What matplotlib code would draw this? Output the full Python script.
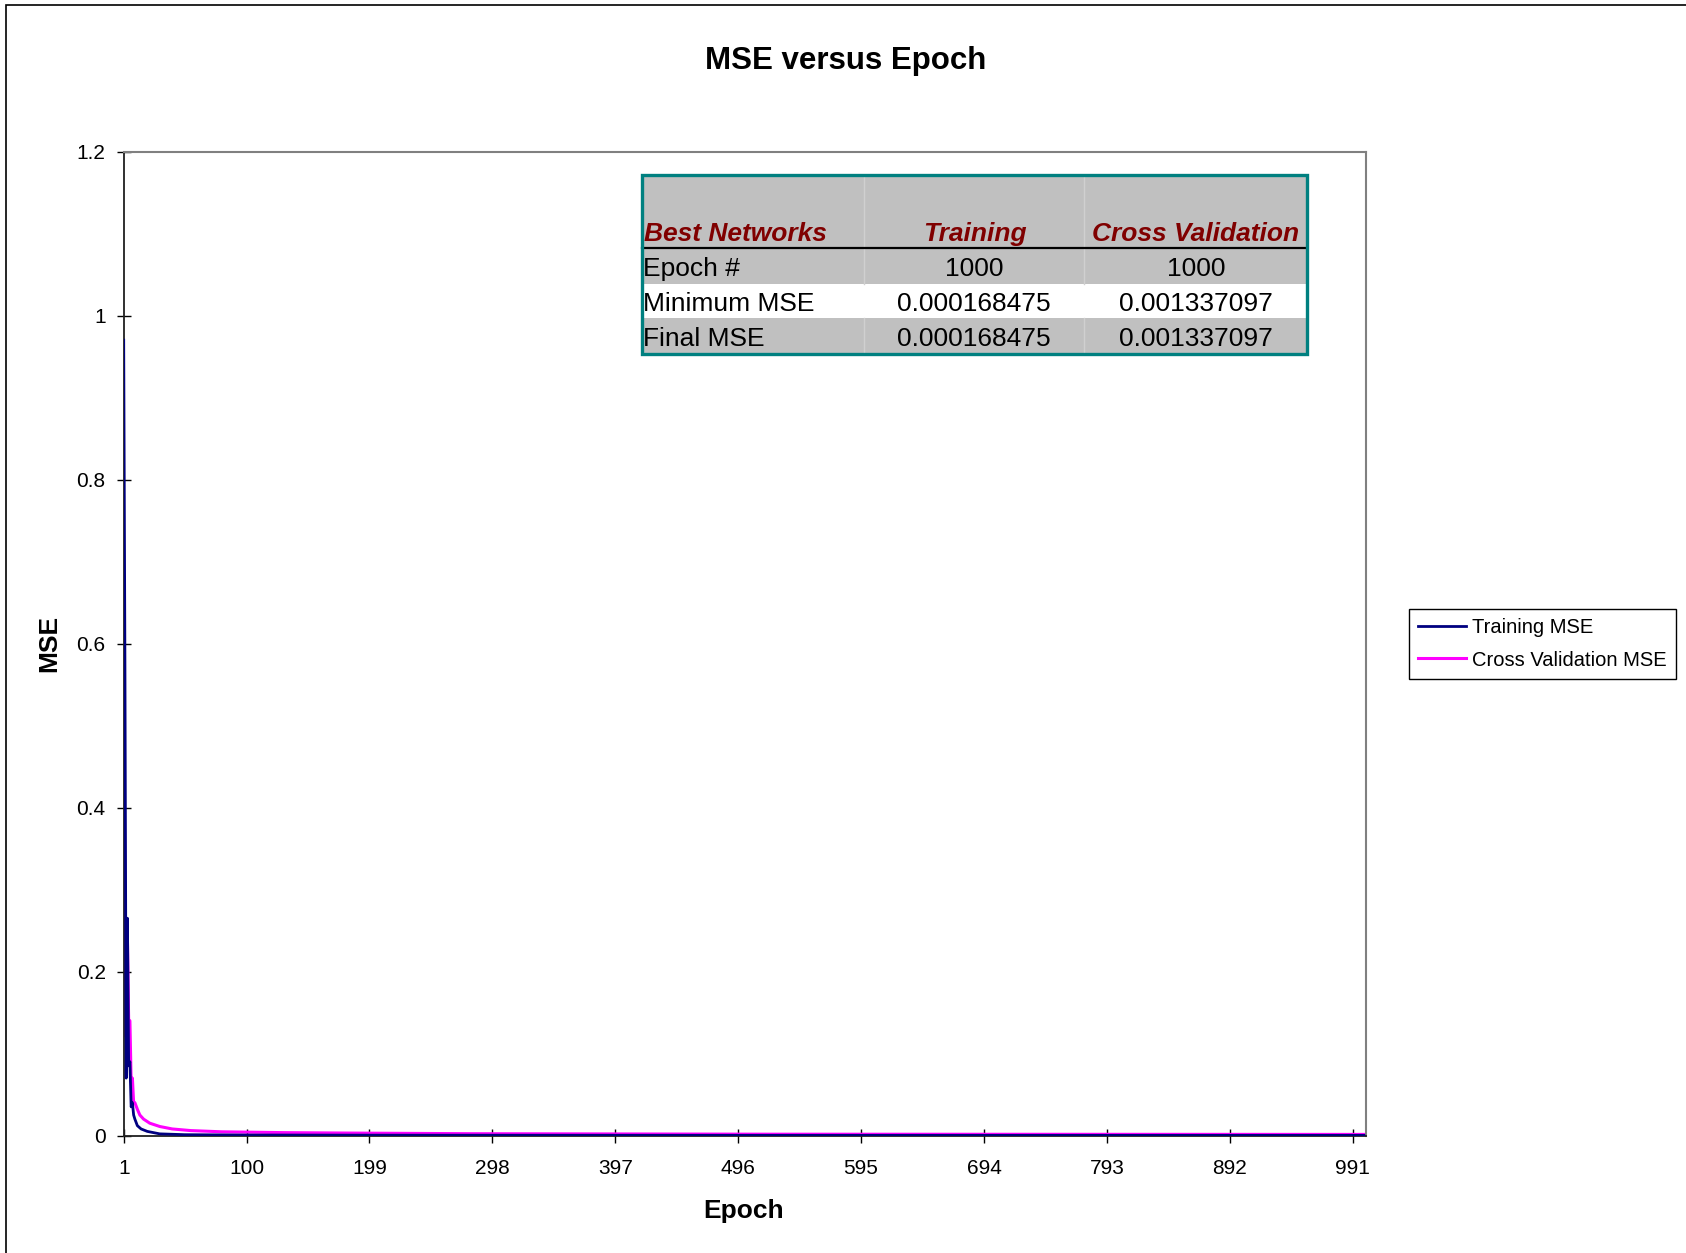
import matplotlib.pyplot as plt
from matplotlib.patches import Rectangle
import numpy as np

plt.rcParams['font.family'] = ['Liberation Sans', 'DejaVu Sans']

# values (epoch, MSE)
train_epoch = [1, 2, 3, 4, 5, 6, 7, 8, 9, 10, 12, 15, 20, 30, 50, 100, 200, 500, 1000]
train_mse = [0.97, 0.57, 0.07, 0.265, 0.085, 0.09, 0.035, 0.04, 0.025, 0.02,
             0.012, 0.008, 0.005, 0.002, 0.001, 0.0006, 0.0004, 0.0002, 0.000168475]
cv_epoch = [1, 2, 3, 4, 5, 6, 7, 8, 9, 10, 12, 14, 17, 22, 30, 40, 55, 80,
            130, 180, 280, 520, 1000]
cv_mse = [0.626, 0.25, 0.12, 0.24, 0.14, 0.14, 0.065, 0.07, 0.04, 0.04, 0.032,
          0.025, 0.02, 0.015, 0.011, 0.008, 0.006, 0.0045, 0.0035, 0.003,
          0.0022, 0.0016, 0.001337097]

xticks = list(range(1, 1001, 99))
yticks = [0, 0.2, 0.4, 0.6, 0.8, 1, 1.2]
ytick_labels = ['0', '0.2', '0.4', '0.6', '0.8', '1', '1.2']

table_header = ['Best Networks', 'Training', 'Cross Validation']
table_rows = [['Epoch #', '1000', '1000'],
              ['Minimum MSE', '0.000168475', '0.001337097'],
              ['Final MSE', '0.000168475', '0.001337097']]

W, H = 1686, 1253
fig = plt.figure(figsize=(W / 100, H / 100), dpi=100)

def fx(px):
    return px / W

def fy(py):
    return 1 - py / H

# outer chart border
fig.patches.append(Rectangle((fx(6), fy(1290)), 1.2, fy(5) - fy(1290), transform=fig.transFigure,
                             fill=False, edgecolor='black', linewidth=1.2))

ax = fig.add_axes([fx(123.7), fy(1135.5), fx(1365.6) - fx(123.7), fy(151.6) - fy(1135.5)])
ax.plot(train_epoch, train_mse, color='#000080', linewidth=2.0, label='Training MSE', zorder=3)
ax.plot(cv_epoch, cv_mse, color='#FF00FF', linewidth=2.2, label='Cross Validation MSE', zorder=2)

ax.set_xlim(1, 1001.4)
ax.set_ylim(0, 1.2)
ax.set_xticks(xticks)
ax.set_yticks(yticks)
ax.set_yticklabels(ytick_labels)
ax.tick_params(axis='both', labelsize=15, direction='inout', length=10, width=1, colors='black')
ax.tick_params(axis='y', pad=8)
ax.tick_params(axis='x', pad=12)
for s in ['top', 'right']:
    ax.spines[s].set_color('#808080')
    ax.spines[s].set_linewidth(1.5)
for s in ['left', 'bottom']:
    ax.spines[s].set_color('#202020')
    ax.spines[s].set_linewidth(1.3)

fig.text(fx(846), fy(61), 'MSE versus Epoch', ha='center', va='center', fontsize=22.5, fontweight='bold')
fig.text(fx(49.5), fy(643), 'MSE', ha='center', va='center', rotation=90, fontsize=19, fontweight='bold')
fig.text(fx(744), fy(1211), 'Epoch', ha='center', va='center', fontsize=19, fontweight='bold')

# legend box
leg = ax.legend(loc='center left', bbox_to_anchor=(fx(1408.6), fy(644)), bbox_transform=fig.transFigure,
                fontsize=14.5, frameon=True, fancybox=False, edgecolor='black', framealpha=1,
                handlelength=2.4, handletextpad=0.3, borderpad=0.45, labelspacing=0.65,
                borderaxespad=0)
leg.get_frame().set_linewidth(1.0)

# summary table
col_x = [642, 863.5, 1084, 1306.5]
row_y = [175, 248.4, 283.9, 318.3, 353.8]
row_bg = ['#C0C0C0', '#C0C0C0', '#FFFFFF', '#C0C0C0']
for r in range(4):
    fig.patches.append(Rectangle((fx(col_x[0]), fy(row_y[r + 1])), fx(col_x[3]) - fx(col_x[0]),
                                 fy(row_y[r]) - fy(row_y[r + 1]), transform=fig.transFigure,
                                 facecolor=row_bg[r], edgecolor='none', zorder=5))
    if row_bg[r] != '#FFFFFF':
        for c in (1, 2):
            fig.lines.append(plt.Line2D([fx(col_x[c]), fx(col_x[c])], [fy(row_y[r]), fy(row_y[r + 1])],
                                        transform=fig.transFigure, color='#D0D0D0', linewidth=1, zorder=6))
fig.lines.append(plt.Line2D([fx(col_x[0]), fx(col_x[3])], [fy(248.4), fy(248.4)],
                            transform=fig.transFigure, color='black', linewidth=1.6, zorder=7))
fig.patches.append(Rectangle((fx(col_x[0]), fy(row_y[4])), fx(col_x[3]) - fx(col_x[0]),
                             fy(row_y[0]) - fy(row_y[4]), transform=fig.transFigure,
                             fill=False, edgecolor='#008080', linewidth=2.4, zorder=8))

hdr_y = fy(234)
fig.text(fx(644), hdr_y, table_header[0], ha='left', va='center', fontsize=19,
         fontweight='bold', fontstyle='italic', color='#800000', zorder=9)
fig.text(fx(975), hdr_y, table_header[1], ha='center', va='center', fontsize=19,
         fontweight='bold', fontstyle='italic', color='#800000', zorder=9)
fig.text(fx(1196), hdr_y, table_header[2], ha='center', va='center', fontsize=19,
         fontweight='bold', fontstyle='italic', color='#800000', zorder=9)
for r, row in enumerate(table_rows):
    yc = fy((row_y[r + 1] + row_y[r + 2]) / 2 + 3)
    fig.text(fx(643), yc, row[0], ha='left', va='center', fontsize=19, zorder=9)
    fig.text(fx(974), yc, row[1], ha='center', va='center', fontsize=19, zorder=9)
    fig.text(fx(1196), yc, row[2], ha='center', va='center', fontsize=19, zorder=9)

fig.savefig('out.png', dpi=100)
